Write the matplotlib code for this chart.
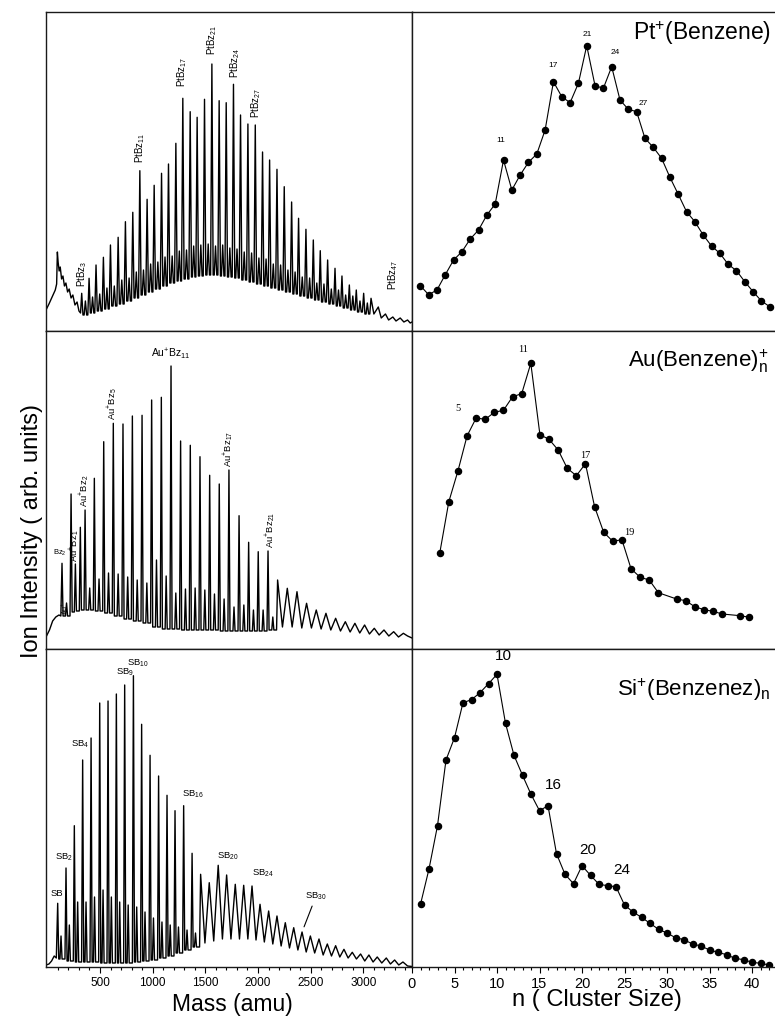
import numpy as np
import matplotlib
matplotlib.use("Agg")
import matplotlib.pyplot as plt

plt.rcParams["font.family"] = ["Liberation Sans", "DejaVu Sans"]
plt.rcParams["mathtext.fontset"] = "custom"
plt.rcParams["mathtext.rm"] = "Liberation Sans"
plt.rcParams["mathtext.it"] = "Liberation Sans:italic"
plt.rcParams["mathtext.bf"] = "Liberation Sans:bold"

nan = np.nan

# ---------------- cluster size distributions (right column) ----------------
pt_n = list(range(1, 44))
pt_int = [45.3, 36.3, 41, 56.3, 71, 79.3, 92, 101, 116, 127, 171, 141, 156, 168.7,
          177, 201, 249.3, 234.3, 228.3, 247.7, 285.3, 245.3, 242.7, 264.3, 231,
          221.7, 219.3, 192.7, 183.7, 172.7, 153.7, 136.7, 119.3, 109.3, 96, 85,
          77.7, 66.7, 60.3, 49.3, 39.3, 30, 24.3]

au_n = [1, 2, 3, 4, 5, 6, 7, 8, 9, 10, 11, 12, 13, 14, 15, 16, 17, 18, 19, 20,
        21, 22, 23, 24, 25, 27, 28, 29, 30, 31, 32, 34, 35]
au_int = [95.7, 147.3, 178, 213, 231, 229.7, 236.7, 238.7, 252.3, 255.3, 285.7,
          214.3, 209.7, 199, 180.7, 173.3, 185.3, 142.3, 116.7, 107.7, 109.3, 80.3,
          71.7, 69, 56.3, 50, 48.3, 42.3, 39.3, 37.7, 35, 33.3, 31.7]

si_n = list(range(1, 43))
si_int = [62.7, 98, 141.3, 207, 229.3, 264.3, 267.3, 274.3, 283.3, 292.7, 243.7,
          211.7, 191.7, 172.7, 156.3, 161.3, 113.3, 92.7, 83.3, 101.3, 91.7, 82.7,
          81.3, 80.3, 62, 55, 49.7, 43.7, 37.7, 34, 29.3, 27.3, 23, 21, 17, 14.7,
          12.3, 8.7, 7.3, 4.7, 3.7, 2]

# ---------------- mass spectra (left column) ----------------
# Pt+(Bz)n
pt_head = [(-13, 21), (15, 27), (45, 34), (75, 41), (88, 47), (95, 79), (102, 69),
           (112, 60), (122, 64), (135, 52), (148, 55), (162, 45), (176, 48),
           (192, 39), (207, 42), (225, 33), (242, 36), (262, 26), (282, 29),
           (300, 20), (315, 18)]
pt_mass = [326, 396, 462, 532, 599, 672, 741, 811, 878, 947, 1014, 1084, 1150,
           1220, 1286, 1356, 1422, 1492, 1562, 1631, 1698, 1767, 1834, 1904, 1974,
           2043, 2110, 2180, 2249, 2319, 2385, 2455, 2525, 2591, 2661, 2731, 2797,
           2867, 2933, 3003, 3073]
pt_peak = [37.7, 52.7, 66, 73.7, 86, 93.7, 109.3, 118.7, 160.3, 131.7, 145.7,
           157.7, 167, 187.7, 232.7, 219.3, 213.7, 231.7, 267, 230.3, 228.3, 246.7,
           216, 207, 206, 179, 171, 161.7, 144.3, 129, 112.7, 101.7, 91, 80.3, 71,
           62.7, 55, 46, 41, 37.7, 32.7]
pt_minor = [30, 34, 37, 43, 45, 51, 53, 59, 61, 67, 69, 74, 75, 80, 81, 85, 86,
            87, 85, 86, 83, 82, 79, 78, 73, 72, 67, 66, 61, 59, 54, 53, 48, 47, 42,
            41, 36, 35, 30, 28]
pt_valley = [16, 18, 20, 22, 25, 27, 30, 33, 36, 39, 42, 45, 48, 50, 52, 54, 55,
             56, 56, 55, 54, 53, 51, 49, 47, 45, 43, 41, 39, 37, 35, 33, 31, 29,
             27, 25, 23, 21, 19, 17]
pt_tail = [(3100, 17), (3142, 24), (3170, 13), (3210, 17), (3240, 11), (3280, 14),
           (3310, 10), (3350, 13), (3385, 9), (3420, 11), (3445, 8), (3462, 9)]

# Au+(Bz)n
au_head = [(-13, 12), (20, 19), (50, 28), (80, 32), (110, 34), (128, 33)]
au_mass = [139, 225, 266, 313, 358, 446, 535, 626, 718, 807, 899, 990, 1082, 1174,
           1265, 1357, 1449, 1541, 1632, 1724, 1820, 1911, 2002, 2095, 2186, 2278,
           2370, 2461, 2553, 2645, 2737, 2829, 2920, 3012, 3104, 3196, 3288, 3380]
au_peak = [85.7, 155, 85, 121.7, 139, 170.7, 207.3, 225.7, 225, 233, 233.7, 249,
           251.7, 283, 208, 203.7, 192.3, 173.7, 165, 179, 133.3, 106.7, 97.3, 98,
           69, 60.7, 57.3, 45.7, 39, 35.7, 30.7, 27.3, 25.7, 24, 20.7, 19, 17.3, 15.7]
au_minor = [46, 37, 38, 39, 61, 70, 76, 75, 72, 69, 66, 89, 73, 56, 60, 61, 59, 55,
            50, 42, 44, 39, 39, 32, nan, nan, nan, nan, nan, nan, nan, nan, nan,
            nan, nan, nan, nan]
au_valley = [33, 37, 38, 39, 39, 38, 36, 33, 30, 28, 26, 22, 20, 20, 19, 19, 19, 19,
             18, 18, 18, 18, 18, 19, 22, 22, 21, 21, 20, 19, 18, 17, 16, 15, 14,
             13, 12]
au_tail = [(3420, 13), (3462, 11)]

# Si+(Bz)n
si_head = [(-13, 2), (15, 3), (40, 6), (65, 11), (85, 9)]
si_mass = [98, 177, 256, 335, 415, 497, 576, 655, 734, 817, 895, 975, 1056, 1136,
           1212, 1294, 1374, 1455, 1537, 1622, 1702, 1784, 1864, 1943, 2019, 2101,
           2180, 2259, 2339, 2418, 2497, 2579, 2658, 2737, 2816, 2895, 2974, 3053,
           3132, 3218, 3297, 3376]
si_peak = [63.7, 99, 141.3, 207, 229, 264, 266, 273, 282, 291.3, 242.7, 211.7, 191,
           171.7, 156.3, 161.3, 113.7, 92.7, 84.3, 101.7, 92, 82.7, 81.7, 81, 62.7,
           56, 51, 44.3, 39.3, 35, 31, 28, 23, 21.3, 17.7, 14.7, 13, 12, 10, 9, 7, 5]
si_minor = [31, 42, 65, 65, 70, 77, 70, 65, 62, 60, 55, 49, 45, 42, 40, 37, 34,
            nan, nan, nan, nan, nan, nan, nan, nan, nan, nan, nan, nan, nan, nan,
            nan, nan, nan, nan, nan, nan, nan, nan, nan, nan]
si_valley = [8, 6, 5, 5, 5, 4, 4, 4, 4, 5, 6, 7, 9, 11, 14, 17, 20, 24, 26, 28, 28,
             28, 28, 27, 25, 23, 21, 19, 17, 15, 14, 12, 11, 10, 9, 8, 6, 5, 4, 3, 2]
si_tail = [(3420, 1), (3462, 0.5)]


def trace(head, mass, peak, minor, valley, tail, w, frac):
    xs = [p[0] for p in head]
    ys = [p[1] for p in head]
    for i in range(len(mass)):
        xs.append(mass[i])
        ys.append(peak[i])
        if i == len(mass) - 1:
            break
        a, b, v = mass[i], mass[i + 1], valley[i]
        if np.isnan(minor[i]):
            xs.append((a + b) / 2)
            ys.append(v)
        else:
            c = a + frac * (b - a)
            xs += [a + w, c - w, c, c + w, b - w]
            ys += [v, v, minor[i], v, v]
    xs += [p[0] for p in tail]
    ys += [p[1] for p in tail]
    return xs, ys


W, H = 775, 1025
fig = plt.figure(figsize=(W / 100, H / 100), dpi=100)


def px_axes(x0, y0, x1, y1):
    return fig.add_axes([x0 / W, 1 - y1 / H, (x1 - x0) / W, (y1 - y0) / H])


rows = [(12, 331), (331, 649), (649, 967)]
left = [px_axes(46, r[0], 412, r[1]) for r in rows]
right = [px_axes(412, r[0], 800, r[1]) for r in rows]

for ax in left + right:
    for s in ax.spines.values():
        s.set_linewidth(1.0)
        s.set_color("#1a1a1a")
    ax.set_yticks([])

spectra = [
    trace(pt_head, pt_mass, pt_peak, pt_minor, pt_valley, pt_tail, 12, 0.5),
    trace(au_head, au_mass, au_peak, au_minor, au_valley, au_tail, 10, 0.5),
    trace(si_head, si_mass, si_peak, si_minor, si_valley, si_tail, 10, 0.4),
]
for ax, (xs, ys), r in zip(left, spectra, rows):
    ax.plot(xs, ys, color="black", lw=1.0)
    ax.set_xlim(-13, 3462)
    ax.set_ylim(0, r[1] - r[0])

# right column plots
right[0].plot(pt_n, pt_int, "-o", color="black", lw=0.8, ms=4.4)
right[0].set_xlim(0, 388 / 8.32)
right[0].set_ylim(0, 319)
right[1].plot(au_n, au_int, "-o", color="black", lw=0.8, ms=4.4)
right[1].set_xlim(-18.6 / 9.11, -18.6 / 9.11 + 388 / 9.11)
right[1].set_ylim(0, 318)
right[2].plot(si_n, si_int, "-o", color="black", lw=0.8, ms=4.4)
right[2].set_xlim(0, 388 / 8.5)
right[2].set_ylim(0, 318)

for ax in left[:2] + right[:2]:
    ax.set_xticks([])

left[2].set_xticks(range(500, 3001, 500))
left[2].set_xticks(range(100, 3500, 100), minor=True)
left[2].tick_params(axis="x", which="major", direction="out", length=4, width=0.8,
                    labelsize=8.5, pad=3)
left[2].tick_params(axis="x", which="minor", direction="out", length=2.5, width=0.8)

right[2].set_xticks(range(0, 41, 5))
right[2].set_xticks(range(0, 46), minor=True)
right[2].tick_params(axis="x", which="major", direction="out", length=4, width=0.8,
                     labelsize=10.5, pad=3)
right[2].tick_params(axis="x", which="minor", direction="out", length=2.5, width=0.8)

# ---- peak labels: spectra ----
def lab(ax, text, x, y, dx, dy, fs, rot=0, ha="center"):
    ax.annotate(text, xy=(x, y), xytext=(dx, dy), textcoords="offset pixels",
                rotation=rot, ha=ha, va="bottom", fontsize=fs)

for k, t, dx, dy in [(0, "PtBz$_{3}$", 0, 6), (8, "PtBz$_{11}$", 0, 8),
                     (14, "PtBz$_{17}$", -1, 11), (18, "PtBz$_{21}$", 0, 9),
                     (21, "PtBz$_{24}$", 2, 6), (24, "PtBz$_{27}$", 1, 7)]:
    lab(left[0], t, pt_mass[k], pt_peak[k], dx, dy, 7, rot=90)
left[0].text(3285, 41, "PtBz$_{47}$", rotation=90, ha="center", va="bottom",
             fontsize=7)

lab(left[1], "Bz$_{2}$", au_mass[0], au_peak[0], -2, 5, 5.5)
left[1].text(168, 34, "Au$^{+}$", rotation=90, ha="center", va="bottom", fontsize=5)
for k, t, dx, dy in [(2, "Au$^{+}$Bz$_{1}$", 0, 2), (4, "Au$^{+}$Bz$_{2}$", 0, 3),
                     (7, "Au$^{+}$Bz$_{5}$", 0, 3), (19, "Au$^{+}$Bz$_{17}$", 0, 3),
                     (23, "Au$^{+}$Bz$_{21}$", 3, 3)]:
    lab(left[1], t, au_mass[k], au_peak[k], dx, dy, 6.8, rot=90)
lab(left[1], "Au$^{+}$Bz$_{11}$", au_mass[13], au_peak[13], 0, 4, 7.5)

for k, t, dx, dy, ha in [(0, "SB", -1, 5, "center"), (1, "SB$_{2}$", -2, 5, "center"),
                         (3, "SB$_{4}$", -3, 10, "center"), (8, "SB$_{9}$", 0, 7, "center"),
                         (9, "SB$_{10}$", 4, 7, "center"), (15, "SB$_{16}$", -2, 6, "left"),
                         (19, "SB$_{20}$", -1.5, 3.5, "left"), (23, "SB$_{24}$", 0, 7, "left")]:
    lab(left[2], t, si_mass[k], si_peak[k], dx, dy, 6.8, ha=ha)
left[2].annotate("SB$_{30}$", xy=(si_mass[29], si_peak[29]), xytext=(3, 30),
                 textcoords="offset pixels", ha="left", va="bottom", fontsize=6.8,
                 arrowprops=dict(arrowstyle="-", lw=0.8, color="black",
                                 shrinkA=1, shrinkB=4))

# ---- peak labels: cluster distributions ----
def nlab(ax, n_list, vals, n, text, dx, dy, fs, family):
    i = n_list.index(n)
    ax.annotate(text, xy=(n, vals[i]), xytext=(dx, dy), textcoords="offset pixels",
                ha="center", va="center", fontsize=fs, family=family)

for n, dx, dy in [(11, -3, 20), (17, 0, 16), (21, 1, 11), (24, 4, 14), (27, 7, 8)]:
    nlab(right[0], pt_n, pt_int, n, str(n), dx, dy, 6, "Liberation Sans")
for n, t, dx, dy in [(11, "11", -8, 14), (5, "5", -18, 10), (17, "17", 0, 8),
                     (21, "19", 7, 7)]:
    nlab(right[1], au_n, au_int, n, t, dx, dy, 7.5, "Liberation Serif")
for n, dx, dy in [(10, 6, 18), (16, 5, 21), (20, 6, 16), (24, 6, 17)]:
    nlab(right[2], si_n, si_int, n, str(n), dx, dy, 11, "Liberation Sans")

# ---- titles and axis labels ----
fig.text(633 / W, 1 - 33 / H, r"Pt$^{+}$(Benzene)", fontsize=16.5, ha="left",
         va="center")
fig.text(628 / W, 1 - 361 / H, r"Au(Benzene)$^{+}_{\mathrm{n}}$", fontsize=16,
         ha="left", va="center")
fig.text(617 / W, 1 - 690 / H, r"Si$^{+}$(Benzenez)$_{\mathrm{n}}$", fontsize=16,
         ha="left", va="center")

fig.text(32.5 / W, 1 - 531 / H, "Ion Intensity ( arb. units)", rotation=90,
         ha="center", va="center", fontsize=17)
fig.text(232 / W, 1 - 1004 / H, "Mass (amu)", ha="center", va="center",
         fontsize=16.5)
fig.text(597 / W, 1 - 1000 / H, "n ( Cluster Size)", ha="center", va="center",
         fontsize=17)

fig.savefig("out.png", dpi=100)
